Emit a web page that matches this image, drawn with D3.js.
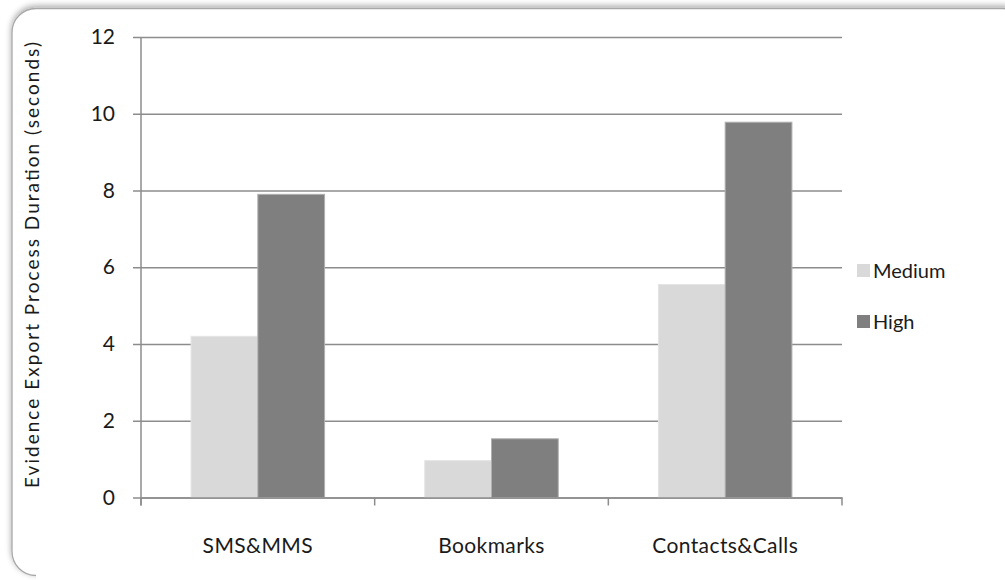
<!DOCTYPE html>
<html>
<head>
<meta charset="utf-8">
<script src="https://cdn.jsdelivr.net/npm/d3@7"></script>
<style>
  body { margin: 0; background: #fff; }
  svg { display: block; }
  text { font-family: Lato, "Open Sans", sans-serif; fill: #1a1a1a; }
</style>
</head>
<body>
<script>
// data
var categories = ["SMS&MMS", "Bookmarks", "Contacts&Calls"]
var series = ["Medium", "High"]
var medium = [4.2, 0.96, 5.55]
var high = [7.9, 1.53, 9.78]
var yTicks = [0, 2, 4, 6, 8, 10, 12]
var colors = ["#d9d9d9", "#7f7f7f"]
var strokes = ["#e4e4e4", "#b0b0b0"]

var width = 1005
var height = 580
var plotLeft = 141, plotRight = 842, plotTop = 37, plotBottom = 497.5
var axisColor = "#8c8c8c"

var svg = d3.select("body")
  .append("svg")
    .attr("width", width)
    .attr("height", height)

// soft shadow for the frame
var defs = svg.append("defs")
var f = defs.append("filter").attr("id", "shadow")
  .attr("x", "-5%").attr("y", "-5%").attr("width", "110%").attr("height", "110%")
f.append("feGaussianBlur").attr("in", "SourceAlpha").attr("stdDeviation", 3)
f.append("feOffset").attr("dx", 0).attr("dy", -2).attr("result", "b")
f.append("feComponentTransfer").attr("in", "b").attr("result", "c")
  .append("feFuncA").attr("type", "linear").attr("slope", 0.35)
var fm = f.append("feMerge")
fm.append("feMergeNode").attr("in", "c")
fm.append("feMergeNode").attr("in", "SourceGraphic")

svg.append("rect")
  .attr("x", 12).attr("y", 8.5)
  .attr("width", 1015).attr("height", 567)
  .attr("rx", 24)
  .attr("fill", "#fff")
  .attr("stroke", "#a8a8a8")
  .attr("stroke-width", 1.3)
  .attr("filter", "url(#shadow)")
// hide the bottom edge, the reference fades out there
svg.append("rect")
  .attr("x", 36).attr("y", 570)
  .attr("width", 980).attr("height", 10)
  .attr("fill", "#fff")

var x0 = d3.scaleBand()
  .domain(categories)
  .range([plotLeft, plotRight])
  .padding(0)

var x1 = d3.scaleBand()
  .domain(series)
  .range([0, x0.bandwidth()])
  .paddingInner(0)
  .paddingOuter(0.75)

var y = d3.scaleLinear()
  .domain([0, 12])
  .range([plotBottom, plotTop])

// gridlines + y ticks
var yAxis = svg.append("g")
  .attr("transform", "translate(" + plotLeft + ",0)")
  .call(d3.axisLeft(y).tickValues(yTicks).tickSize(8).tickPadding(18))
yAxis.select(".domain").remove()
yAxis.selectAll(".tick line")
  .attr("x2", plotRight - plotLeft)
  .attr("x1", -8)
  .attr("stroke", axisColor)
  .attr("stroke-width", 1.5)
yAxis.selectAll(".tick text")
  .attr("x", -26)
  .attr("font-size", 21)
  .attr("font-family", "Lato, sans-serif")
  .attr("fill", "#1a1a1a")

var data = categories.map(function(c, i) {
  return { cat: c, vals: [medium[i], high[i]] }
})

var groups = svg.selectAll("g.cat")
  .data(data)
  .enter()
  .append("g")
    .attr("class", "cat")
    .attr("transform", function(d) { return "translate(" + x0(d.cat) + ",0)" })

groups.selectAll("rect")
  .data(function(d) { return d.vals.map(function(v, j) { return { s: series[j], v: v, j: j } }) })
  .enter()
  .append("rect")
    .attr("x", function(d) { return x1(d.s) })
    .attr("y", function(d) { return y(d.v) })
    .attr("width", x1.bandwidth())
    .attr("height", function(d) { return plotBottom - y(d.v) })
    .attr("fill", function(d) { return colors[d.j] })
    .attr("stroke", function(d) { return strokes[d.j] })
    .attr("stroke-width", 1)

// y axis line
svg.append("line")
  .attr("x1", plotLeft).attr("x2", plotLeft)
  .attr("y1", plotTop).attr("y2", plotBottom + 8)
  .attr("stroke", axisColor)
  .attr("stroke-width", 1.5)

// x axis
var xAxis = svg.append("g")
  .attr("transform", "translate(0," + plotBottom + ")")
  .call(d3.axisBottom(x0).tickSize(0).tickPadding(41))
xAxis.select(".domain")
  .attr("stroke", axisColor)
  .attr("stroke-width", 1.5)
xAxis.selectAll(".tick text")
  .attr("font-size", 21)
  .attr("letter-spacing", 0.4)
  .attr("font-family", "Lato, sans-serif")
  .attr("fill", "#1a1a1a")

var bounds = categories.map(function(c) { return x0(c) }).concat([plotRight])
svg.selectAll("line.xt")
  .data(bounds)
  .enter()
  .append("line")
    .attr("class", "xt")
    .attr("x1", function(d) { return d }).attr("x2", function(d) { return d })
    .attr("y1", plotBottom).attr("y2", plotBottom + 8)
    .attr("stroke", axisColor)
    .attr("stroke-width", 1.5)

// y label
svg.append("text")
  .attr("transform", "translate(39,265) rotate(-90)")
  .attr("text-anchor", "middle")
  .attr("font-size", 19)
  .attr("textLength", 446)
  .attr("lengthAdjust", "spacing")
  .text("Evidence Export Process Duration (seconds)")

// legend
var legend = svg.append("g")
  .attr("transform", "translate(857,264)")
var items = legend.selectAll("g")
  .data(series)
  .enter()
  .append("g")
    .attr("transform", function(d, i) { return "translate(0," + (i * 51) + ")" })
items.append("rect")
  .attr("width", 13).attr("height", 13)
  .attr("fill", function(d, i) { return colors[i] })
items.append("text")
  .attr("x", 16).attr("y", 14)
  .attr("font-size", 20)
  .text(function(d) { return d })
</script>
</body>
</html>
